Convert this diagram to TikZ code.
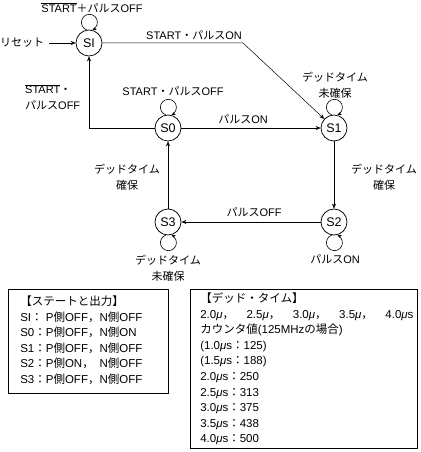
\documentclass[tikz,border=0pt]{standalone}
\usepackage{fontspec}
\setmainfont{Liberation Sans}
\newfontfamily\jp{Noto Sans CJK JP}
\usetikzlibrary{arrows.meta}
\newcommand{\jc}[1]{{\jp #1}}
\newcommand{\ovl}[1]{$\overline{\mbox{#1}}$}
\newcommand{\mus}{\textit{μ}}
\hbadness=10000 \hfuzz=100pt
\begin{document}
\begin{tikzpicture}[x=1pt,y=1pt,
  st/.style={draw,circle,minimum size=26pt,inner sep=0pt,line width=0.75pt,font=\fontsize{12.5}{12.5}\selectfont},
  lbl/.style={font=\fontsize{11}{16}\selectfont,align=center,inner sep=0pt},
  jlbl/.style={lbl,font=\jp\fontsize{11}{16}\selectfont},
  arr/.style={-{Stealth[length=5pt,width=4pt]},line width=0.5pt},
  lp/.style={-{Stealth[length=4pt,width=3.5pt]},line width=0.6pt},
  box/.style={draw,line width=0.6pt,anchor=north west,font=\fontsize{11.5}{15.6}\selectfont,align=left}]
\useasboundingbox (0,0) rectangle (420,-452);
% states
\node[st] (SI) at (89,-43) {SI};
\node[st] (S0) at (168,-128) {S0};
\node[st] (S1) at (334,-128) {S1};
\node[st] (S2) at (334,-222) {S2};
\node[st] (S3) at (168,-222) {S3};
% reset
\node[jlbl,anchor=west] (rst) at (0,-43) {リセット};
\draw[arr] ([xshift=5pt]rst.east) -- (SI);
% SI self loop
\draw[lp] (SI.100) arc[start angle=250,end angle=-68,radius=8];
\node[lbl] (lSI) at (92,-8) {\ovl{START}\jc{＋パルス}OFF};
% SI -> S1
\coordinate (k1) at (243,-43);
\draw[arr] (SI) -- (k1) -- (S1);
\node[lbl] (lSI1) at (194,-35) {START\jc{・パルス}ON};
% S0 -> SI
\draw[arr] (S0) -| (SI);
\node[lbl,align=left,anchor=north west] (lS0I) at (25,-84) {\ovl{START}\jc{・}\\\jc{パルス}OFF};
% S0 loop
\draw[lp] (S0.100) arc[start angle=250,end angle=-68,radius=8];
\node[lbl] (lS0) at (173,-91) {START\jc{・パルス}OFF};
% S0 -> S1
\draw[arr] (S0) -- (S1);
\node[lbl] (lS01) at (243,-119) {\jc{パルス}ON};
% S1 loop
\draw[lp] (S1.100) arc[start angle=250,end angle=-68,radius=8];
\node[jlbl] (lS1) at (335,-85) {デッドタイム\\未確保};
% S1 -> S2
\draw[arr] (S1) -- (S2);
\node[jlbl] (lS12) at (384,-177) {デッドタイム\\確保};
% S2 loop
\draw[lp] (S2.-100) arc[start angle=110,end angle=428,radius=8];
\node[lbl] (lS2) at (335,-259) {\jc{パルス}ON};
% S2 -> S3
\draw[arr] (S2) -- (S3);
\node[lbl] (lS23) at (254,-212) {\jc{パルス}OFF};
% S3 loop
\draw[lp] (S3.-100) arc[start angle=110,end angle=428,radius=8];
\node[jlbl] (lS3) at (168,-268) {デッドタイム\\未確保};
% S3 -> S0
\draw[arr] (S3) -- (S0);
\node[jlbl] (lS30) at (127,-177) {デッドタイム\\確保};
% boxes
\node[box,inner xsep=12pt,text width=136pt,minimum height=104pt] (b1) at (8,-289) {%
\begin{tabular}{@{}l@{}l@{}l@{}}
\multicolumn{3}{@{}l}{\jc{【ステートと出力】}}\\
SI\jc{：}&P\jc{側}OFF\jc{，}&N\jc{側}OFF\\
S0\jc{：}&P\jc{側}OFF\jc{，}&N\jc{側}ON\\
S1\jc{：}&P\jc{側}OFF\jc{，}&N\jc{側}OFF\\
S2\jc{：}&P\jc{側}ON\jc{，}&N\jc{側}OFF\\
S3\jc{：}&P\jc{側}OFF\jc{，}&N\jc{側}OFF
\end{tabular}};
\node[box,inner xsep=10pt,text width=207pt,minimum height=157pt] (b2) at (190,-289) {%
\jc{【デッド・タイム】}\\
\mbox{2.0\mus\jc{，}\hspace{12.5pt}2.5\mus\jc{，}\hspace{12.5pt}3.0\mus\jc{，}\hspace{12.5pt}3.5\mus\jc{，}\hspace{12.5pt}4.0\mus s}\\
\jc{カウンタ値}(125MHz\jc{の場合})\\
(1.0\mus s\jc{：}125)\\
(1.5\mus s\jc{：}188)\\
2.0\mus s\jc{：}250\\
2.5\mus s\jc{：}313\\
3.0\mus s\jc{：}375\\
3.5\mus s\jc{：}438\\
4.0\mus s\jc{：}500};
\end{tikzpicture}
\end{document}
